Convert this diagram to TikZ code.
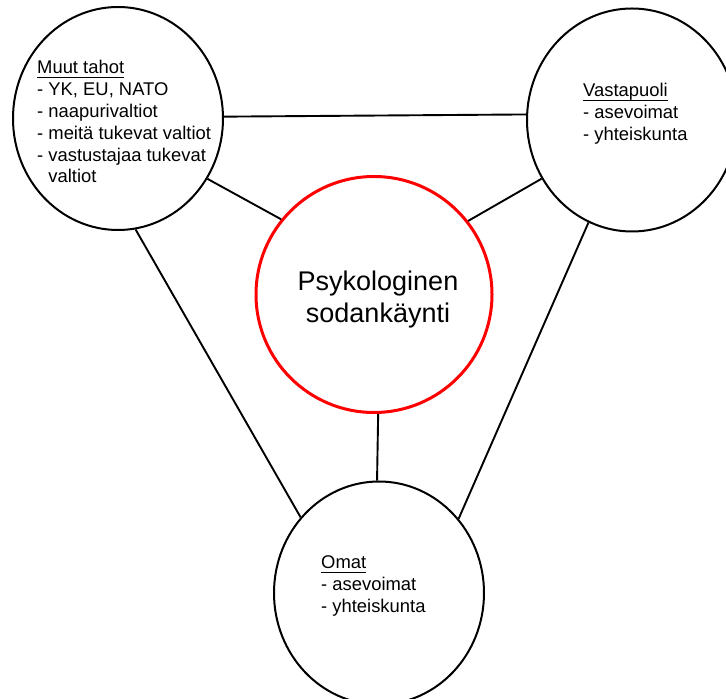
\documentclass[tikz,border=0pt]{standalone}
\usepackage{fontspec}
\setmainfont{Liberation Sans}
\usetikzlibrary{shapes.geometric}

% heading underline: a rule a little below the baseline
\newcommand\headline[1]{\setbox0\hbox{#1}\rlap{\vrule width\wd0 height -2.6pt depth 3.9pt}\box0}

\tikzset{
  party/.style={draw=black, line width=2pt, ellipse, inner sep=0pt,
                minimum width=210pt, minimum height=223pt},
  core/.style={draw=red, line width=3pt, circle, inner sep=0pt,
               minimum size=236pt},
  label/.style={inner sep=0pt, anchor=base west,
                font=\fontsize{18.4}{21.8}\selectfont},
  corelabel/.style={inner sep=0pt, anchor=base,
                    font=\fontsize{27}{32}\selectfont},
  link/.style={draw=black, line width=1.9pt}
}

\begin{document}
\begin{tikzpicture}[x=1pt, y=1pt]
  \useasboundingbox (0,0) rectangle (726,699);
  \clip (0,0) rectangle (726,699);

  % the four circles
  \node[party] (muut) at (118,580.5) {};
  \node[party] (vasta) at (632,579) {};
  \node[party] (omat) at (379,106) {};
  \node[core] (psy) at (374,404.5) {};

  % connectors between the circles
  \draw[link] (muut.1.4) -- (vasta.177.8);
  \draw[link] (muut.-34.2) -- (psy.141);
  \draw[link] (vasta.-147) -- (psy.38.4);
  \draw[link] (muut.-81.3) -- (omat.136.5);
  \draw[link] (vasta.-113.75) -- (omat.43.5);
  \draw[link] (psy.-88) -- (omat.91);

  % texts
  \node[label] (tmuut) at (37,625) {\begin{tabular}[t]{@{}l@{}}
    \headline{Muut tahot}\\
    - YK, EU, NATO\\
    - naapurivaltiot\\
    - meitä tukevat valtiot\\
    - vastustajaa tukevat\\
    \phantom{- }valtiot
  \end{tabular}};

  \node[label] (tvasta) at (583,602) {\begin{tabular}[t]{@{}l@{}}
    \headline{Vastapuoli}\\
    - asevoimat\\
    - yhteiskunta
  \end{tabular}};

  \node[label] (tomat) at (321,130) {\begin{tabular}[t]{@{}l@{}}
    \headline{Omat}\\
    - asevoimat\\
    - yhteiskunta
  \end{tabular}};

  \node[corelabel] (tpsy) at (378,408) {\begin{tabular}[t]{@{}c@{}}
    Psykologinen\\
    sodankäynti
  \end{tabular}};
\end{tikzpicture}
\end{document}
